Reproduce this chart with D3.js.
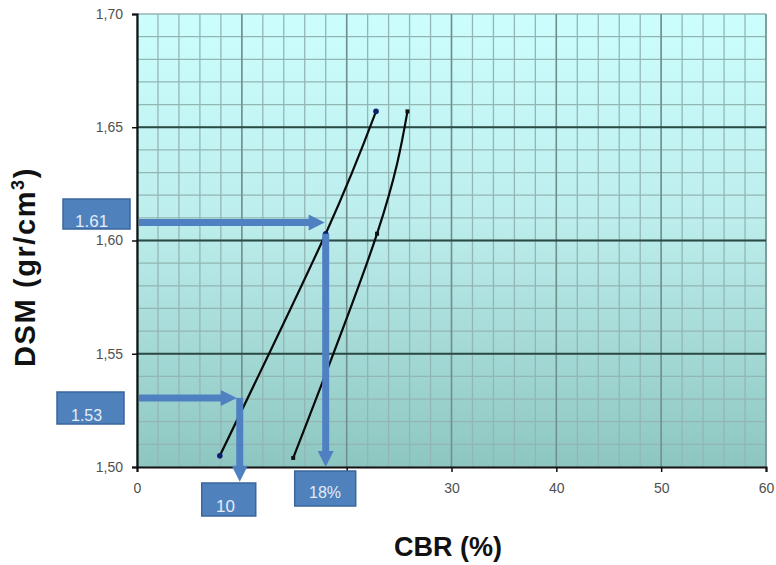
<!DOCTYPE html>
<html>
<head>
<meta charset="utf-8">
<script src="https://cdn.jsdelivr.net/npm/d3@7/dist/d3.min.js"></script>
<style>
  html, body { margin: 0; padding: 0; background: #ffffff; }
  svg { display: block; font-family: Arial, "Liberation Sans", sans-serif; }
</style>
</head>
<body>
<svg id="chart" width="776" height="565"></svg>
<script>
// ---- data ----
const xTicks = [0, 10, 20, 30, 40, 50, 60];
const yTicks = [1.50, 1.55, 1.60, 1.65, 1.70];
const yTickLabels = ["1,50", "1,55", "1,60", "1,65", "1,70"];
const curve1X = [7.9, 18.0, 22.8];
const curve1Y = [1.505, 1.603, 1.657];
const curve2X = [14.9, 22.9, 25.8];
const curve2Y = [1.504, 1.603, 1.657];
// reading arrows: density read, CBR read
const readDensity = [1.608, 1.5305];
const readCBR = [18.0, 9.8];
const readCurveY = [1.603, 1.5305];
const readArrowEndY = [1.50, 1.4935];
const densityLabels = ["1.61", "1.53"];
const cbrLabels = ["18%", "10"];

const svg = d3.select("#chart");
const x = d3.scaleLinear().domain([0, 60]).range([137, 766]);
const y = d3.scaleLinear().domain([1.50, 1.70]).range([467, 14]);

const defs = svg.append("defs");
const grad = defs.append("linearGradient").attr("id", "bg")
  .attr("x1", 0).attr("y1", 0).attr("x2", 0).attr("y2", 1);
grad.append("stop").attr("offset", "0%").attr("stop-color", "#ccfefe");
grad.append("stop").attr("offset", "45%").attr("stop-color", "#bdeeed");
grad.append("stop").attr("offset", "100%").attr("stop-color", "#8dc6c1");

// plot background
svg.append("rect")
  .attr("x", x(0)).attr("y", y(1.70))
  .attr("width", x(60) - x(0)).attr("height", y(1.50) - y(1.70))
  .attr("fill", "url(#bg)");

// minor grid
const minorX = d3.range(0, 60.001, 2);
const minorY = d3.range(1.50, 1.7001, 0.01);
const grid = svg.append("g");
grid.selectAll(".mx").data(minorX).join("line")
  .attr("x1", d => x(d)).attr("x2", d => x(d))
  .attr("y1", y(1.70)).attr("y2", y(1.50))
  .attr("stroke", "#93b6b4").attr("stroke-width", 1.3);
grid.selectAll(".my").data(minorY).join("line")
  .attr("x1", x(0)).attr("x2", x(60))
  .attr("y1", d => y(d)).attr("y2", d => y(d))
  .attr("stroke", "#93b6b4").attr("stroke-width", 1.3);
// major verticals
grid.selectAll(".Mx").data(xTicks.slice(1)).join("line")
  .attr("x1", d => x(d)).attr("x2", d => x(d))
  .attr("y1", y(1.70)).attr("y2", y(1.50))
  .attr("stroke", "#6f8f8d").attr("stroke-width", 1.5);
// major horizontals
grid.selectAll(".My").data(yTicks.slice(1, 4)).join("line")
  .attr("x1", x(0)).attr("x2", x(60))
  .attr("y1", d => y(d)).attr("y2", d => y(d))
  .attr("stroke", "#2b4a44").attr("stroke-width", 2);

// axes
const yAxis = d3.axisLeft(y).tickValues(yTicks).tickSize(5).tickPadding(9)
  .tickFormat((d, i) => yTickLabels[i]);
const gy = svg.append("g").attr("transform", `translate(${x(0)},0)`).call(yAxis);
gy.select(".domain").attr("stroke", "#111").attr("stroke-width", 2.2);
gy.selectAll(".tick line").attr("stroke", "#111").attr("stroke-width", 1.5);
gy.selectAll(".tick text").attr("font-size", 14).attr("fill", "#505050")
  .attr("font-family", "Arial, 'Liberation Sans', sans-serif");

const xAxis = d3.axisBottom(x).tickValues(xTicks).tickSize(5).tickPadding(11)
  .tickFormat(d3.format("d"));
const gx = svg.append("g").attr("transform", `translate(0,${y(1.50)})`).call(xAxis);
gx.select(".domain").attr("stroke", "#111").attr("stroke-width", 2);
gx.selectAll(".tick line").attr("stroke", "#111").attr("stroke-width", 1.5);
gx.selectAll(".tick text").attr("font-size", 14).attr("fill", "#505050")
  .attr("font-family", "Arial, 'Liberation Sans', sans-serif");

// curves
const line = d3.line().x(d => x(d[0])).y(d => y(d[1])).curve(d3.curveNatural);
const c1 = curve1X.map((v, i) => [v, curve1Y[i]]);
const c2 = curve2X.map((v, i) => [v, curve2Y[i]]);
svg.append("path").attr("d", line(c1)).attr("fill", "none")
  .attr("stroke", "#0a0a0a").attr("stroke-width", 2.2);
svg.append("path").attr("d", line(c2)).attr("fill", "none")
  .attr("stroke", "#0a0a0a").attr("stroke-width", 2.2);
svg.selectAll(".p1").data(c1).join("circle")
  .attr("cx", d => x(d[0])).attr("cy", d => y(d[1])).attr("r", 2.8)
  .attr("fill", "#0d1f6e");
svg.selectAll(".p2").data(c2).join("rect")
  .attr("x", d => x(d[0]) - 2).attr("y", d => y(d[1]) - 2)
  .attr("width", 4).attr("height", 4).attr("fill", "#111");

// arrows
const blue = "#4f81c2";
function arrowH(x0, x1, yy) {
  const g = svg.append("g");
  g.append("line").attr("x1", x0).attr("x2", x1 - 12).attr("y1", yy).attr("y2", yy)
    .attr("stroke", blue).attr("stroke-width", 7);
  g.append("path").attr("d", `M${x1 - 16},${yy - 8} L${x1},${yy} L${x1 - 16},${yy + 8} Z`)
    .attr("fill", blue);
}
function arrowV(xx, y0, y1) {
  const g = svg.append("g");
  g.append("line").attr("x1", xx).attr("x2", xx).attr("y1", y0).attr("y2", y1 - 12)
    .attr("stroke", blue).attr("stroke-width", 7);
  g.append("path").attr("d", `M${xx - 8},${y1 - 16} L${xx},${y1} L${xx + 8},${y1 - 16} Z`)
    .attr("fill", blue);
}
arrowH(x(0) + 2, x(readCBR[0]) - 1, y(readDensity[0]));
arrowV(x(readCBR[0]), y(readCurveY[0]), y(readArrowEndY[0]));
arrowH(x(0) + 2, x(readCBR[1]) - 3, y(readDensity[1]));
arrowV(x(readCBR[1]), y(readCurveY[1]), y(readArrowEndY[1]));

// label boxes
function box(bx, by, bw, bh, text, tx, ty, fs) {
  svg.append("rect").attr("x", bx).attr("y", by).attr("width", bw).attr("height", bh)
    .attr("fill", "#4f81bd").attr("stroke", "#3a669c").attr("stroke-width", 1.5);
  svg.append("text").attr("x", tx).attr("y", ty).attr("font-size", fs)
    .attr("fill", "#e4ecf7").text(text);
}
box(63, 199, 67, 30, densityLabels[0], 75, 227, 17);
box(57, 392, 67, 32, densityLabels[1], 71, 421, 16);
box(x(readCBR[1]) - 38, 483, 54, 33, cbrLabels[1], 216, 512, 17);
box(x(readCBR[0]) - 31, 471, 61, 35, cbrLabels[0], 309, 498, 16);

// axis titles
svg.append("text")
  .attr("transform", `translate(35,${267}) rotate(-90)`)
  .attr("text-anchor", "middle")
  .attr("font-size", 29).attr("font-weight", "bold").attr("fill", "#111")
  .attr("letter-spacing", 1.6)
  .html('DSM (gr/cm<tspan dy="-11" font-size="18">3</tspan><tspan dy="11">)</tspan>');
svg.append("text")
  .attr("x", 448).attr("y", 556)
  .attr("text-anchor", "middle")
  .attr("font-size", 27).attr("font-weight", "bold").attr("fill", "#111")
  .text("CBR (%)");
</script>
</body>
</html>
